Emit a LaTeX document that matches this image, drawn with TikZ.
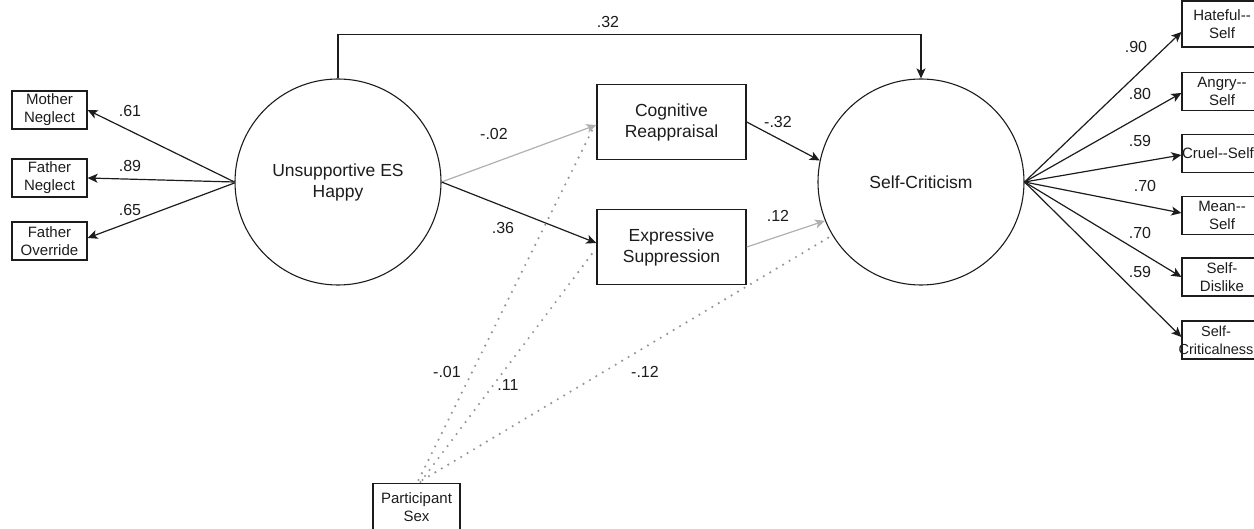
\documentclass[tikz,border=0pt]{standalone}
\usepackage{fontspec}
\setmainfont{Liberation Sans}
\usetikzlibrary{arrows.meta,calc}
\definecolor{ink}{HTML}{1C1C1C}
\definecolor{faint}{HTML}{B0B0B0}
\definecolor{dotgrey}{HTML}{959595}
\begin{document}
\begin{tikzpicture}[x=1pt,y=-1pt,
  latent/.style={circle,draw=ink,line width=1.1pt,minimum size=206pt,inner sep=0pt,align=center,
    font=\fontsize{17.5}{21}\selectfont,text=ink},
  midbox/.style={rectangle,draw=ink,line width=1.4pt,minimum width=149pt,minimum height=75pt,
    inner sep=0pt,align=center,font=\fontsize{17.5}{21}\selectfont,text=ink},
  smalltext/.style={align=center,font=\fontsize{15}{18}\selectfont,text=ink,inner sep=0pt},
  smallbox/.style={rectangle,draw=ink,line width=1.2pt,minimum width=75pt,minimum height=38pt,
    smalltext},
  indbox/.style={smallbox,minimum width=80pt},
  coef/.style={font=\fontsize{16}{18}\selectfont,text=ink,inner sep=0pt},
  tip/.tip={Stealth[length=10pt,width=9pt,inset=2.5pt]},
  strong/.style={draw=ink,line width=1.2pt,-tip},
  weak/.style={draw=faint,line width=1.2pt,-tip},
  sexpath/.style={draw=dotgrey,line width=2.4pt,line cap=round,dash pattern=on 0pt off 7.5pt},
]
\useasboundingbox (0,0) rectangle (1254,529);

% latent factors
\node[latent] (L) at (338,182) {Unsupportive ES\\Happy};
\node[latent] (R) at (921,182) {Self-Criticism};

% mediators
\node[midbox] (cr) at (671.5,122) {Cognitive\\Reappraisal};
\node[midbox] (es) at (671.5,247) {Expressive\\Suppression};

% indicators of the parenting factor
\node[smallbox] (mn) at (49.5,110) {Mother\\Neglect};
\node[smallbox] (fn) at (49.5,178) {Father\\Neglect};
\node[smallbox] (fo) at (49.5,241) {Father\\Override};

% indicators of self-criticism
\node[indbox,minimum height=46pt] (hs) at (1222,24) {Hateful-{}-\\Self};
\node[indbox] (as) at (1222,91.5) {Angry-{}-\\Self};
\node[indbox,label={[smalltext,xshift=-4pt]center:Cruel-{}-Self}] (cs) at (1222,153.5) {};
\node[indbox] (ms) at (1222,215.5) {Mean-{}-\\Self};
\node[indbox] (sd) at (1222,277) {Self-\\Dislike};
\node[indbox,label={[smalltext,xshift=-6pt,font=\fontsize{14.5}{18}\selectfont]center:Self-\\Criticalness}]
  (sc) at (1222,340) {};

% covariate
\node[smallbox,minimum width=87pt,minimum height=48pt,anchor=north] (ps) at (416.5,483)
  {Participant\\Sex};

% loadings, left
\draw[strong] (L.west) -- (mn.east);
\draw[strong] (L.west) -- (fn.east);
\draw[strong] ($(L.west)+(0,1)$) -- ($(fo.east)+(0,-3)$);

% loadings, right
\draw[strong] (R.east) -- ($(hs.west)+(0,8)$);
\draw[strong] (R.east) -- ($(as.west)+(0,1.5)$);
\draw[strong] (R.east) -- ($(cs.west)+(0,1.5)$);
\draw[strong] (R.east) -- ($(ms.west)+(0,-2.5)$);
\draw[strong] (R.east) -- (sd.west);
\draw[strong] (R.east) -- ($(sc.west)+(0,-3)$);

% structural paths
\draw[weak] (L.east) -- ($(cr.west)+(0,3)$);
\draw[strong] (L.east) -- ($(es.west)+(0,-4)$);
\draw[strong] (cr.east) -- (R.168);
\draw[weak] (es.east) -- (R.202);
\draw[strong] (L.north) -- ++(0,-44) -| (R.north);

% covariate paths
\draw[sexpath] ($(ps.north)+(2,-3)$) -- ($(cr.west)+(-3,6)$);
\draw[sexpath] ($(ps.north)+(4,-1)$) -- ($(es.west)+(-3,5)$);
\draw[sexpath] ($(ps.north)+(6,-3)$) -- (R.211);

% coefficients
\node[coef] at (130,111) {.61};
\node[coef] at (130,166) {.89};
\node[coef] at (130,210) {.65};
\node[coef] at (494,134) {-.02};
\node[coef] at (503,228) {.36};
\node[coef] at (778,122) {-.32};
\node[coef] at (778,216) {.12};
\node[coef] at (608,22) {.32};
\node[coef] at (447,372) {-.01};
\node[coef] at (508,385) {.11};
\node[coef] at (645,372) {-.12};
\node[coef] at (1136,47) {.90};
\node[coef] at (1140,94) {.80};
\node[coef] at (1140,141) {.59};
\node[coef] at (1145,186) {.70};
\node[coef] at (1140,233) {.70};
\node[coef] at (1140,272) {.59};
\end{tikzpicture}
\end{document}
